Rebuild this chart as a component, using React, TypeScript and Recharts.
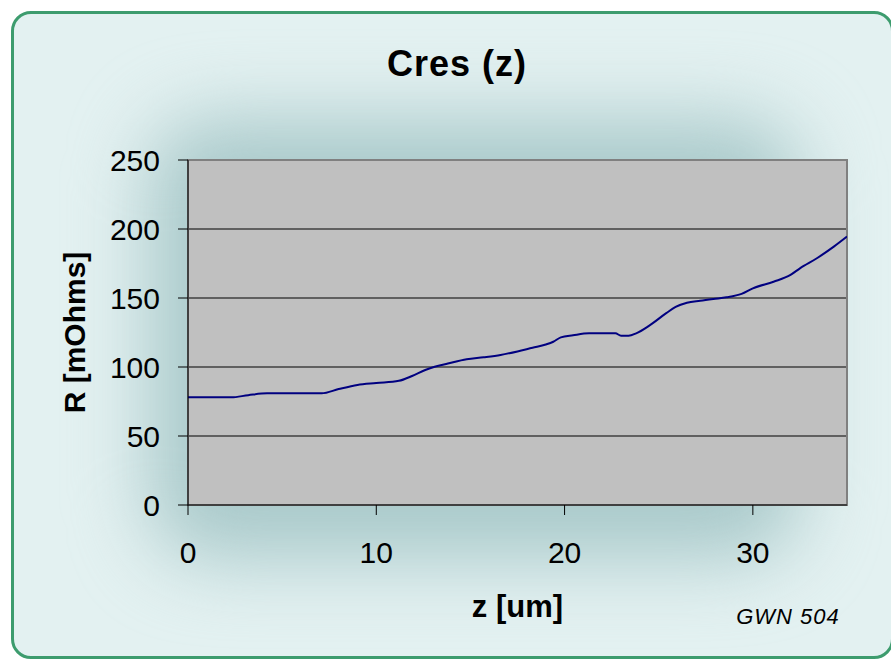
import { LineChart, Line, XAxis, YAxis, CartesianGrid, ReferenceArea } from 'recharts'

// depth z [um] and contact resistance R [mOhms]
const zValues = [0, 1, 2.3, 3.2, 4.2, 5.5, 7.1, 8, 9, 10, 11.2, 11.9, 12.6, 13.1, 13.8, 14.8, 15.7, 16.6, 17.5, 18.3, 19, 19.4, 19.8, 20.45, 21.3, 22.7, 23, 23.4, 23.8, 24.5, 25.4, 25.9, 26.5, 27.2, 27.9, 28.6, 29.4, 30, 31.1, 32, 32.5, 33.4, 34.3, 35]
const rValues = [78, 78, 78, 79.6, 80.9, 80.9, 80.9, 84, 87, 88.4, 90, 93.5, 97.8, 100.2, 102.5, 105.6, 107, 108.7, 111.3, 114, 116.3, 118.3, 121.5, 123, 124.4, 124.4, 122.7, 122.7, 124.4, 130, 139, 143.5, 146.5, 148, 149.3, 150.5, 153, 157, 161.8, 166.7, 171.5, 178.8, 187.2, 194.5]
const xTicks = [0, 10, 20, 30]
const yTicks = [0, 50, 100, 150, 200, 250]

const data = zValues.map((z, i) => ({ z, r: rValues[i] }))

const font = '"Liberation Sans", Arial, sans-serif'

export default function App() {
  return (
    <div style={{ position: 'absolute', left: 0, top: 0, width: 891, height: 661, overflow: 'hidden', background: '#fff', fontFamily: font }}>
      <div
        style={{
          position: 'absolute', left: 11, top: 11, width: 883, height: 648,
          boxSizing: 'border-box', border: '3px solid #3d9c6e', borderRadius: 20,
          background: '#e3f1f1', overflow: 'hidden',
        }}
      >
        {/* soft glow behind the plot area */}
        <div
          style={{
            position: 'absolute', left: 135, top: 105, width: 650, height: 440,
            background: '#a9c9ca', filter: 'blur(38px)', borderRadius: 60,
          }}
        />
      </div>
      <div style={{ position: 'absolute', left: 0, top: 0 }}>
        <LineChart width={891} height={661} data={data} margin={{ top: 160, right: 44, bottom: 44, left: 0 }}>
          <CartesianGrid vertical={false} stroke="#000" fill="#c0c0c0" fillOpacity={1} />
          <ReferenceArea x1={0} x2={35} y1={0} y2={250} fill="none" stroke="#808080" strokeWidth={2} />
          <XAxis
            dataKey="z"
            type="number"
            domain={[0, 35]}
            ticks={xTicks}
            allowDataOverflow
            stroke="#000"
            tickSize={10}
            tickMargin={27}
            height={112}
            tick={{ fill: '#000', fontSize: 30, fontFamily: font }}
            label={{ value: 'z [um]', position: 'insideBottom', offset: 0, style: { fontSize: 31, fontWeight: 'bold', fill: '#000', fontFamily: font } }}
          />
          <YAxis
            type="number"
            domain={[0, 250]}
            ticks={yTicks}
            stroke="#000"
            width={188}
            tickSize={10}
            tickMargin={18}
            tick={{ fill: '#000', fontSize: 30, fontFamily: font }}
            label={{ value: 'R [mOhms]', angle: -90, position: 'insideLeft', offset: 74, style: { textAnchor: 'middle', fontSize: 30, fontWeight: 'bold', fill: '#000', fontFamily: font } }}
          />
          <Line type="monotone" dataKey="r" stroke="#000080" strokeWidth={2} dot={false} isAnimationActive={false} />
        </LineChart>
      </div>
      <svg width={891} height={661} style={{ position: 'absolute', left: 0, top: 0, pointerEvents: 'none' }}>
        <text x={457} y={76} textAnchor="middle" fontSize={36} fontWeight="bold" fontFamily={font} letterSpacing={1}>Cres (z)</text>
        <text x={788} y={624} textAnchor="middle" fontSize={22} fontStyle="italic" fontFamily={font} letterSpacing={1}>GWN 504</text>
      </svg>
    </div>
  )
}
